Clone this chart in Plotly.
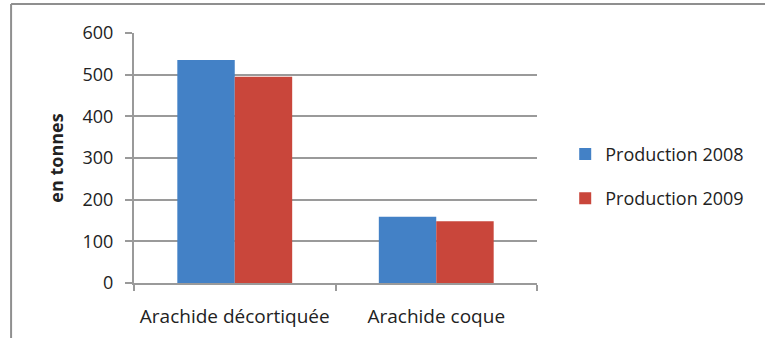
import plotly.graph_objects as go

categories = ["Arachide décortiquée", "Arachide coque"]
prod_2008 = [535, 159]
prod_2009 = [495, 148]
y_ticks = [0, 100, 200, 300, 400, 500, 600]

FONT = "Open Sans"
FS = 19
GRID = "#9a9a9a"
TEXT = "#222222"

fig = go.Figure()
fig.add_trace(go.Bar(name="Production 2008", x=categories, y=prod_2008,
                     legendgroup="a",
                     marker=dict(color="#4381c6", line=dict(width=0))))
fig.add_trace(go.Bar(name="Production 2009", x=categories, y=prod_2009,
                     legendgroup="b",
                     marker=dict(color="#c9463b", line=dict(width=0))))

# outer frame (top and left edges)
frame = dict(color="#8f8f8f", width=2)
fig.add_shape(type="line", xref="paper", yref="paper",
              x0=-0.305, x1=1.7, y0=1.116, y1=1.116, line=frame)
fig.add_shape(type="line", xref="paper", yref="paper",
              x0=-0.305, x1=-0.305, y0=1.116, y1=-0.4, line=frame)

fig.update_layout(
    width=765, height=338,
    margin=dict(l=134, r=228, t=33, b=54.5),
    paper_bgcolor="white", plot_bgcolor="white",
    barmode="group", bargap=0.43, bargroupgap=0,
    font=dict(family=FONT, size=FS, color=TEXT),
    showlegend=True,
    legend=dict(x=1.07, y=0.427, xanchor="left", yanchor="middle",
                font=dict(family=FONT, size=FS - 1, color=TEXT),
                tracegroupgap=18, itemwidth=30, bgcolor="rgba(0,0,0,0)"),
    xaxis=dict(type="category", showgrid=False, showline=True,
               linecolor=GRID, linewidth=2, ticks="outside",
               tickson="boundaries", ticklen=6, tickcolor=GRID, tickwidth=2,
               tickfont=dict(family=FONT, size=FS), ticklabelstandoff=15,
               automargin=False, zeroline=False),
    yaxis=dict(range=[0, 600], tickvals=y_ticks, showgrid=True,
               gridcolor=GRID, gridwidth=2, showline=True, linecolor=GRID,
               linewidth=2, ticks="outside", ticklen=7, tickcolor=GRID,
               tickwidth=2, tickfont=dict(family=FONT, size=FS - 1),
               ticklabelstandoff=8, zeroline=False,
               title=dict(text="<b>en tonnes</b>", standoff=14,
                          font=dict(family=FONT, size=FS - 1))),
)

fig.write_html("out.html")
